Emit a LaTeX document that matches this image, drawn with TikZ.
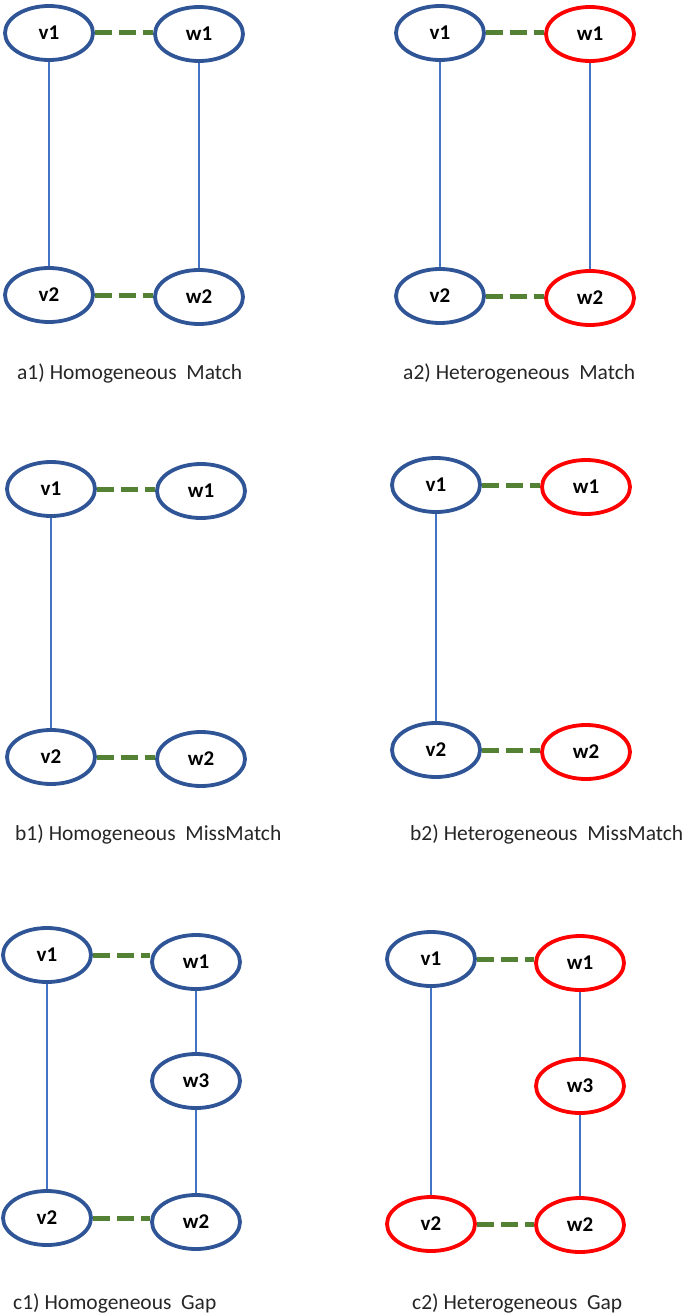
\documentclass[tikz,border=0pt]{standalone}
\usepackage{fontspec}
\setmainfont{Carlito}
\usetikzlibrary{shapes.geometric}
\definecolor{nblue}{HTML}{2F5597}
\definecolor{nred}{HTML}{FF0000}
\definecolor{egreen}{HTML}{548235}
\definecolor{lblue}{HTML}{4472C4}
\tikzset{
  vnode/.style={ellipse, draw=nblue, line width=3.8pt, minimum width=88pt, minimum height=54pt, inner sep=0pt, font=\fontsize{21}{22}\selectfont\bfseries},
  rnode/.style={vnode, draw=nred},
  matchedge/.style={draw=egreen, line width=5pt, dash pattern=on 17pt off 7pt},
  linkedge/.style={draw=lblue, line width=1.2pt},
  figlabel/.style={anchor=west, inner sep=0pt, font=\fontsize{21.5}{24}\selectfont, text=black!85}
}
\begin{document}
\begin{tikzpicture}[x=1pt,y=-1pt]
\useasboundingbox (0,0) rectangle (685,1316);
% a1
\node[vnode] (a1v1) at (49,33) {v1};
\node[vnode] (a1w1) at (199,34) {w1};
\node[vnode] (a1v2) at (49,295) {v2};
\node[vnode] (a1w2) at (199,297) {w2};
\draw[matchedge] (a1v1.east) -- (a1v1.east -| a1w1.west);
\draw[matchedge] (a1v2.east) -- (a1v2.east -| a1w2.west);
\draw[linkedge] (a1v1) -- (a1v2);
\draw[linkedge] (a1w1) -- (a1w2);
\node[figlabel] (a1lab) at (17,373) {a1) Homogeneous\ \ Match};
% a2
\node[vnode] (a2v1) at (440,33) {v1};
\node[rnode] (a2w1) at (590,34) {w1};
\node[vnode] (a2v2) at (440,296) {v2};
\node[rnode] (a2w2) at (590,298) {w2};
\draw[matchedge] (a2v1.east) -- (a2v1.east -| a2w1.west);
\draw[matchedge] (a2v2.east) -- (a2v2.east -| a2w2.west);
\draw[linkedge] (a2v1) -- (a2v2);
\draw[linkedge] (a2w1) -- (a2w2);
\node[figlabel] (a2lab) at (403,373) {a2) Heterogeneous\ \ Match};
% b1
\node[vnode] (b1v1) at (51,489) {v1};
\node[vnode] (b1w1) at (201,491) {w1};
\node[vnode] (b1v2) at (51,757) {v2};
\node[vnode] (b1w2) at (201,759) {w2};
\draw[matchedge] (b1v1.east) -- (b1v1.east -| b1w1.west);
\draw[matchedge] (b1v2.east) -- (b1v2.east -| b1w2.west);
\draw[linkedge] (b1v1) -- (b1v2);
\node[figlabel] (b1lab) at (15,834) {b1) Homogeneous\ \ MissMatch};
% b2
\node[vnode] (b2v1) at (436,485) {v1};
\node[rnode] (b2w1) at (586,487) {w1};
\node[vnode] (b2v2) at (436,750) {v2};
\node[rnode] (b2w2) at (586,752) {w2};
\draw[matchedge] (b2v1.east) -- (b2v1.east -| b2w1.west);
\draw[matchedge] (b2v2.east) -- (b2v2.east -| b2w2.west);
\draw[linkedge] (b2v1) -- (b2v2);
\node[figlabel] (b2lab) at (410,834) {b2) Heterogeneous\ \ MissMatch};
% c1
\node[vnode] (c1v1) at (47,955) {v1};
\node[vnode] (c1w1) at (196,962) {w1};
\node[vnode] (c1w3) at (196,1081) {w3};
\node[vnode] (c1v2) at (47,1218) {v2};
\node[vnode] (c1w2) at (196,1222) {w2};
\draw[matchedge] (c1v1.east) -- (c1v1.east -| c1w1.west);
\draw[matchedge] (c1v2.east) -- (c1v2.east -| c1w2.west);
\draw[linkedge] (c1v1) -- (c1v2);
\draw[linkedge] (c1w1) -- (c1w3);
\draw[linkedge] (c1w3) -- (c1w2);
\node[figlabel] (c1lab) at (13,1303) {c1) Homogeneous\ \ Gap};
% c2
\node[vnode] (c2v1) at (431,959) {v1};
\node[rnode] (c2w1) at (580,963) {w1};
\node[rnode] (c2w3) at (580,1086) {w3};
\node[rnode] (c2v2) at (431,1224) {v2};
\node[rnode] (c2w2) at (580,1225) {w2};
\draw[matchedge] (c2v1.east) -- (c2v1.east -| c2w1.west);
\draw[matchedge] (c2v2.east) -- (c2v2.east -| c2w2.west);
\draw[linkedge] (c2v1) -- (c2v2);
\draw[linkedge] (c2w1) -- (c2w3);
\draw[linkedge] (c2w3) -- (c2w2);
\node[figlabel] (c2lab) at (412,1303) {c2) Heterogeneous\ \ Gap};
\end{tikzpicture}
\end{document}
